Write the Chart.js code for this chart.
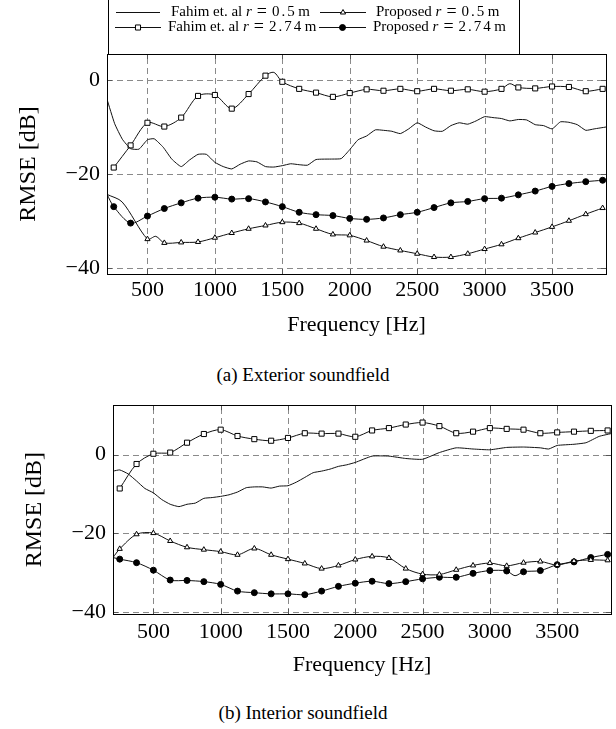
<!DOCTYPE html>
<html>
<head>
<meta charset="utf-8">
<script src="https://cdn.jsdelivr.net/npm/chart.js"></script>
<style>
  body { margin: 0; background: #fff; width: 616px; height: 729px; position: relative; overflow: hidden; }
  canvas { position: absolute; left: 0; }
  .caption { position: absolute; left: 0; width: 606px; text-align: center; font: 19px 'Liberation Serif', serif; color: #000; line-height: 22px; }
</style>
</head>
<body>
<canvas id="extChart" width="616" height="340" style="top:0px"></canvas>
<div class="caption" style="top:364px">(a) Exterior soundfield</div>
<canvas id="intChart" width="616" height="300" style="top:385px"></canvas>
<div class="caption" style="top:702px">(b) Interior soundfield</div>
<script>
// ---- data ----
const seriesLabels = ['Fahim et. al r = 0.5 m', 'Proposed r = 0.5 m', 'Fahim et. al r = 2.74 m', 'Proposed r = 2.74 m'];
const xTicks = [500, 1000, 1500, 2000, 2500, 3000, 3500];
const yTicks = [-40, -20, 0];

// (a) exterior
const extFahim05Hz = [200,257,314,375,437,500,550,617,680,750,812,875,937,1000,1062,1125,1187,1250,1312,1375,1437,1500,1562,1625,1687,1750,1875,1937,2000,2062,2125,2190,2250,2312,2375,2437,2500,2562,2625,2687,2750,2812,2875,2937,3000,3062,3125,3187,3250,3312,3375,3437,3500,3562,3625,3687,3750,3812,3900];
const extFahim05Db = [-4.1,-9.3,-12.6,-14.6,-14.7,-12.7,-12.5,-14.3,-16.8,-18.4,-17.0,-15.8,-15.8,-17.5,-18.4,-18.9,-17.9,-17.2,-17.4,-18.4,-18.5,-18.2,-17.8,-18.0,-18.1,-16.9,-16.8,-16.7,-14.8,-12.7,-11.9,-10.6,-10.7,-10.9,-11.4,-10.4,-9.1,-10.0,-10.8,-10.9,-9.7,-9.1,-9.4,-8.7,-7.8,-8.0,-8.2,-8.7,-8.4,-8.5,-9.5,-9.7,-10.4,-8.9,-9.0,-9.5,-10.7,-10.4,-10.0];
const extProp05Hz = [200,312,500,562,625,750,875,1000,1125,1250,1375,1500,1625,1750,1875,2000,2125,2250,2375,2500,2625,2750,2875,3000,3125,3250,3375,3500,3625,3750,3875];
const extProp05Db = [-24.3,-25.9,-33.8,-33.2,-34.6,-34.5,-34.4,-33.5,-32.5,-31.6,-30.9,-30.2,-30.4,-31.6,-32.8,-33.0,-34.1,-35.4,-36.2,-36.9,-37.6,-37.6,-36.9,-35.9,-34.9,-33.6,-32.4,-31.2,-29.9,-28.5,-27.2];
const extFahim274Hz = [250,375,500,625,750,875,1000,1125,1250,1375,1437,1500,1625,1750,1875,2000,2125,2250,2375,2500,2625,2750,2875,3000,3125,3187,3250,3375,3500,3625,3750,3875];
const extFahim274Db = [-18.6,-13.9,-9.1,-9.9,-8.0,-3.4,-3.2,-6.1,-3.0,0.9,1.6,-0.4,-1.9,-2.7,-3.6,-2.8,-2.0,-2.3,-1.9,-2.4,-1.9,-2.3,-2.0,-2.5,-1.9,-0.8,-1.6,-1.8,-1.4,-1.5,-2.4,-1.9];
const extProp274Hz = [200,250,375,500,625,750,875,1000,1125,1250,1375,1500,1625,1750,1875,2000,2125,2250,2375,2500,2625,2750,2875,3000,3125,3250,3375,3500,3625,3750,3875];
const extProp274Db = [-24.3,-26.9,-30.4,-28.9,-27.3,-26.1,-25.1,-24.9,-25.3,-25.2,-25.9,-26.9,-28.1,-28.6,-28.8,-29.4,-29.6,-29.3,-28.6,-28.1,-27.1,-26.1,-25.8,-25.2,-25.1,-24.4,-23.6,-22.6,-22.0,-21.6,-21.3];

// (b) interior
const intFahim05Hz = [200,250,312,375,437,500,562,625,690,750,812,875,937,1000,1062,1125,1190,1250,1312,1375,1437,1500,1562,1625,1687,1750,1812,1875,1937,2000,2125,2250,2375,2500,2625,2750,2875,3000,3125,3250,3375,3437,3500,3625,3715,3812,3900];
const intFahim05Db = [-4.2,-3.9,-4.9,-6.7,-8.6,-9.7,-11.4,-12.6,-13.2,-12.6,-12.3,-11.1,-10.9,-10.6,-10.2,-9.5,-8.4,-8.2,-8.2,-8.5,-8.0,-7.9,-7.0,-5.8,-4.6,-4.2,-3.7,-3.0,-2.6,-2.0,-0.4,-0.4,-1.0,-1.2,0.5,1.7,1.4,1.2,1.8,1.9,1.7,1.4,2.3,2.6,3.0,4.6,5.3];
const intProp05Hz = [200,250,375,500,625,750,875,1000,1125,1250,1375,1500,1625,1750,1875,2000,2125,2250,2375,2500,2625,2750,2875,3000,3125,3250,3375,3500,3625,3750,3875];
const intProp05Db = [-26.1,-23.9,-20.2,-19.9,-21.9,-23.5,-24.1,-24.6,-25.4,-23.8,-25.4,-26.5,-27.6,-28.9,-28.1,-26.6,-25.8,-26.2,-28.9,-30.3,-30.4,-29.2,-28.1,-27.5,-28.2,-27.4,-27.1,-28.0,-27.0,-26.7,-26.8];
const intFahim274Hz = [250,375,500,625,750,875,1000,1125,1250,1375,1500,1625,1750,1875,2000,2125,2250,2375,2500,2625,2750,2875,3000,3125,3250,3375,3500,3625,3750,3875];
const intFahim274Db = [-8.6,-2.4,0.2,0.5,3.0,5.2,6.3,4.7,3.9,3.5,4.2,5.4,5.3,5.3,4.5,6.1,6.7,7.6,8.1,7.2,5.4,5.8,6.7,6.5,6.3,5.4,5.6,5.8,6.0,6.1];
const intProp274Hz = [200,250,375,500,625,750,875,1000,1125,1250,1375,1500,1625,1750,1875,2000,2125,2250,2375,2500,2625,2750,2875,3000,3125,3187,3250,3375,3500,3625,3750,3875];
const intProp274Db = [-26.1,-26.5,-27.4,-29.3,-31.8,-31.9,-32.2,-32.9,-34.6,-35.0,-35.3,-35.3,-35.5,-34.6,-33.4,-32.6,-32.1,-32.7,-32.2,-31.5,-31.1,-31.1,-30.1,-29.4,-29.5,-30.7,-29.7,-29.4,-27.9,-27.2,-26.1,-25.3];

// ---- styling ----
const FONT = "'Liberation Serif', 'Times New Roman', serif";
const markerStyles = [
  { pointStyle: 'circle', radius: 0, bg: '#000' },
  { pointStyle: 'triangle', radius: 3, bg: '#fff' },
  { pointStyle: 'rect', radius: 3.6, bg: '#fff' },
  { pointStyle: 'circle', radius: 3, bg: '#000' }
];

const toPoints = (hz, db) => hz.map((x, i) => ({ x: x, y: db[i] }));

const makeDataset = (i, hz, db) => {
  const m = markerStyles[i];
  return {
    label: seriesLabels[i],
    data: toPoints(hz, db),
    borderColor: '#111',
    borderWidth: 1,
    tension: i === 0 ? 0.15 : 0.3,
    pointStyle: m.pointStyle,
    // marks only on the 125 Hz grid, like the source plot
    pointRadius: ctx => (m.radius && ctx.raw && ctx.raw.x >= 250 && ctx.raw.x % 125 === 0) ? m.radius : 0,
    pointBackgroundColor: m.bg,
    pointBorderColor: '#000',
    pointBorderWidth: 1
  };
};

const minusFmt = v => v < 0 ? '\u2212' + Math.abs(v) : String(v);

// dashed grid, small inner tick marks and the box round the plot
const framePlugin = {
  id: 'frame',
  beforeDatasetsDraw(chart) {
    const { ctx, chartArea: a, scales } = chart;
    ctx.save();
    ctx.strokeStyle = '#8a8a8a';
    ctx.lineWidth = 1;
    ctx.setLineDash([6, 4]);
    ctx.beginPath();
    xTicks.forEach(v => {
      const px = Math.round(scales.x.getPixelForValue(v)) + 0.5;
      ctx.moveTo(px, a.bottom); ctx.lineTo(px, a.top);
    });
    yTicks.forEach(v => {
      const py = Math.round(scales.y.getPixelForValue(v)) + 0.5;
      ctx.moveTo(a.left, py); ctx.lineTo(a.right, py);
    });
    ctx.stroke();
    ctx.setLineDash([]);
    ctx.strokeStyle = '#555';
    ctx.beginPath();
    xTicks.forEach(v => {
      const px = Math.round(scales.x.getPixelForValue(v)) + 0.5;
      ctx.moveTo(px, a.bottom); ctx.lineTo(px, a.bottom - 5);
      ctx.moveTo(px, a.top); ctx.lineTo(px, a.top + 5);
    });
    yTicks.forEach(v => {
      const py = Math.round(scales.y.getPixelForValue(v)) + 0.5;
      ctx.moveTo(a.left, py); ctx.lineTo(a.left + 5, py);
      ctx.moveTo(a.right, py); ctx.lineTo(a.right - 5, py);
    });
    ctx.stroke();
    ctx.restore();
  },
  afterDatasetsDraw(chart) {
    const { ctx, chartArea: a } = chart;
    ctx.save();
    ctx.strokeStyle = '#000';
    ctx.lineWidth = 1;
    ctx.strokeRect(Math.round(a.left) + 0.5, Math.round(a.top) + 0.5, Math.round(a.right - a.left), Math.round(a.bottom - a.top));
    ctx.restore();
  }
};

const drawMarker = (ctx, style, r, bg, x, y) => {
  ctx.beginPath();
  if (style === 'rect') {
    const s = r * Math.SQRT1_2;
    ctx.rect(x - s, y - s, 2 * s, 2 * s);
  } else if (style === 'triangle') {
    ctx.moveTo(x, y - r);
    ctx.lineTo(x + r * 0.866, y + r * 0.5);
    ctx.lineTo(x - r * 0.866, y + r * 0.5);
    ctx.closePath();
  } else {
    ctx.arc(x, y, r, 0, Math.PI * 2);
  }
  ctx.fillStyle = bg;
  ctx.fill();
  ctx.stroke();
};

// spaced-out digits, the way the math font sets "0.5" / "2.74"
const fillSpaced = (ctx, str, x, y, extra) => {
  for (const ch of str) {
    ctx.fillText(ch, x, y);
    x += ctx.measureText(ch).width + extra;
  }
  return x;
};

// legend box above the first plot, two rows of two entries
const legendPlugin = {
  id: 'texLegend',
  afterDraw(chart) {
    const ctx = chart.ctx;
    const a = chart.chartArea;
    const slots = [
      { x0: 116, x1: 160, tx: 171, y: 12.5 },
      { x0: 320, x1: 366, tx: 376, y: 12.5 },
      { x0: 115, x1: 161, tx: 168, y: 27.5 },
      { x0: 319, x1: 366, tx: 373, y: 27.5 }
    ];
    ctx.save();
    ctx.strokeStyle = '#000';
    ctx.lineWidth = 1;
    ctx.strokeRect(Math.round(a.left) + 1.5, -2, 411, Math.round(a.top) + 2.5);
    seriesLabels.forEach((label, i) => {
      const s = slots[i];
      const m = markerStyles[i];
      ctx.strokeStyle = '#111';
      ctx.beginPath();
      ctx.moveTo(s.x0, s.y); ctx.lineTo(s.x1, s.y);
      ctx.stroke();
      if (m.radius) {
        ctx.strokeStyle = '#000';
        drawMarker(ctx, m.pointStyle, m.radius, m.bg, (s.x0 + s.x1) / 2, s.y);
      }
      const parts = label.split(' r = ');
      const num = parts[1].replace(' m', '');
      ctx.fillStyle = '#000';
      ctx.textBaseline = 'middle';
      let x = s.tx;
      ctx.font = '15px ' + FONT;
      ctx.fillText(parts[0] + ' ', x, s.y);
      x += ctx.measureText(parts[0] + ' ').width;
      ctx.font = 'italic 15px ' + FONT;
      ctx.fillText('r', x, s.y);
      x += ctx.measureText('r').width + 5;
      ctx.font = '18px ' + FONT;
      ctx.fillText('=', x, s.y);
      x += ctx.measureText('=').width + 5;
      ctx.font = '15px ' + FONT;
      x = fillSpaced(ctx, num, x, s.y, 2) + 1.5;
      ctx.fillText('m', x, s.y);
    });
    ctx.restore();
  }
};

const makeChart = (id, datasets, yMin, yMax, g, extraPlugins) => {
  return new Chart(document.getElementById(id), {
    type: 'line',
    data: { datasets: datasets },
    options: {
      responsive: false,
      animation: false,
      layout: { padding: { top: g.padTop, right: g.padRight, left: 0, bottom: 0 } },
      plugins: { legend: { display: false }, tooltip: { enabled: false } },
      scales: {
        x: {
          type: 'linear', min: 200, max: 3900,
          afterFit: s => { s.height = g.xHeight; },
          afterBuildTicks: s => { s.ticks = xTicks.map(v => ({ value: v })); },
          ticks: { padding: g.xTickPad, font: { family: FONT, size: 22 }, color: '#000', maxRotation: 0, callback: v => String(v) },
          grid: { display: false, drawTicks: false },
          border: { display: false },
          title: { display: true, text: 'Frequency [Hz]', color: '#000', font: { family: FONT, size: 22 }, padding: { top: 0, bottom: g.xTitlePad } }
        },
        y: {
          type: 'linear', min: yMin, max: yMax,
          afterFit: s => { s.width = g.yWidth; },
          afterBuildTicks: s => { s.ticks = yTicks.map(v => ({ value: v })); },
          ticks: { padding: 7, font: { family: FONT, size: 22 }, color: '#000', callback: minusFmt },
          grid: { display: false, drawTicks: false },
          border: { display: false },
          title: { display: true, text: 'RMSE [dB]', color: '#000', font: { family: FONT, size: 24 }, padding: { top: g.yTitlePad, bottom: 0 } }
        }
      }
    },
    plugins: [framePlugin].concat(extraPlugins)
  });
};

makeChart('extChart', [
  makeDataset(0, extFahim05Hz, extFahim05Db),
  makeDataset(1, extProp05Hz, extProp05Db),
  makeDataset(2, extFahim274Hz, extFahim274Db),
  makeDataset(3, extProp274Hz, extProp274Db)
], -41.2, 5.5, { padTop: 54, padRight: 10, xHeight: 66, yWidth: 107, xTickPad: 3, xTitlePad: 2, yTitlePad: 14 }, [legendPlugin]);

makeChart('intChart', [
  makeDataset(0, intFahim05Hz, intFahim05Db),
  makeDataset(1, intProp05Hz, intProp05Db),
  makeDataset(2, intFahim274Hz, intFahim274Db),
  makeDataset(3, intProp274Hz, intProp274Db)
], -40.4, 12.5, { padTop: 8, padRight: 4, xHeight: 71, yWidth: 113, xTickPad: 5, xTitlePad: 7, yTitlePad: 20 }, []);
</script>
</body>
</html>
